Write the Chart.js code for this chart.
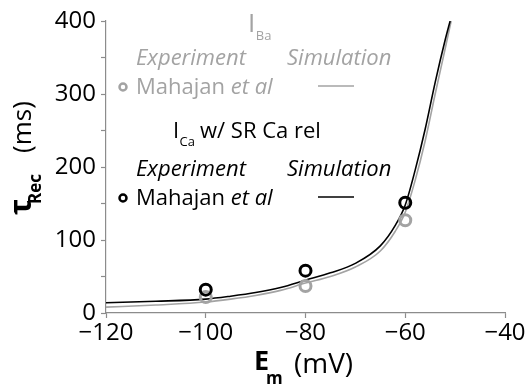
<!DOCTYPE html>
<html>
<head>
<meta charset="utf-8">
<script src="https://cdn.jsdelivr.net/npm/chart.js@4/dist/chart.umd.min.js"></script>
<style>
  html, body { margin: 0; padding: 0; background: #fff; }
  #wrap { width: 530px; height: 390px; }
</style>
</head>
<body>
<div id="wrap"><canvas id="tauChart" width="530" height="390"></canvas></div>
<script>
// --- data ---
const xTicks = [-120, -100, -80, -60, -40];
const yTicks = [0, 100, 200, 300, 400];

// simulation curves (I_Ba grey, I_Ca w/ SR Ca release black)
const simBaV   = [-120, -110, -100, -95, -90, -85, -80, -75, -70, -65, -62, -60, -58, -56, -54, -52, -50.8];
const simBaTau = [8, 11, 15, 19, 24, 31, 41, 50, 63, 85, 112, 138, 182, 236, 300, 362, 400];
const simCaV   = [-120, -110, -100, -95, -90, -85, -80, -75, -70, -65, -62, -60, -58, -56, -54, -52, -51];
const simCaTau = [14, 16, 19, 23, 28, 35, 45, 55, 68, 92, 120, 148, 196, 252, 316, 374, 400];

// experiment (Mahajan et al)
const expV     = [-100, -80, -60];
const expBaTau = [22, 37, 127];
const expCaTau = [32, 58, 151];

const GREY = '#a3a3a3';
const AXIS = '#8c8c8c';
const FONT = '"Open Sans", "Noto Sans", sans-serif';

const toXY = (xs, ys) => xs.map((x, i) => ({ x: x, y: ys[i] }));
const minus = v => (v < 0 ? '\u2212' + Math.abs(v) : String(v));

// titles + in-plot legend text, drawn on the canvas
const annotations = {
    id: 'annotations',
    afterDraw(chart) {
        const ctx = chart.ctx;
        ctx.save();
        ctx.textBaseline = 'alphabetic';
        ctx.textAlign = 'left';

        // y title: tau_Rec (ms)
        ctx.save();
        ctx.translate(31, 215);
        ctx.rotate(-Math.PI / 2);
        ctx.fillStyle = '#000';
        ctx.font = 'bold 30px ' + FONT;
        ctx.fillText('\u03c4', 0, 0);
        ctx.font = 'bold 17px ' + FONT;
        ctx.fillText('Rec', 11, 10);
        ctx.font = '26px ' + FONT;
        ctx.fillText('(ms)', 62, 0);
        ctx.restore();

        // x title: E_m (mV)
        ctx.fillStyle = '#000';
        ctx.font = 'bold 27px ' + FONT;
        ctx.fillText('E', 254, 370);
        ctx.font = 'bold 17px ' + FONT;
        ctx.fillText('m', 266, 384);
        ctx.font = '28px ' + FONT;
        ctx.fillText('(mV)', 294, 373);

        // legend block, grey (I_Ba)
        drawBlock(ctx, GREY, 0, 'Ba', 26, 248, 32);
        // legend block, black (I_Ca w/ SR Ca rel)
        drawBlock(ctx, '#000', 111, 'Ca', 22, 173, 138);
        ctx.fillStyle = '#000';
        ctx.font = '22px ' + FONT;
        ctx.fillText('w/ SR Ca rel', 200, 138);

        ctx.restore();
    }
};

function drawBlock(ctx, color, dy, sub, iSize, ix, iy) {
    ctx.fillStyle = color;
    ctx.strokeStyle = color;
    ctx.font = iSize + 'px ' + FONT;
    ctx.fillText('I', ix, iy);
    ctx.font = '13px ' + FONT;
    ctx.fillText(sub, ix + iSize * 0.3, iy + 8);

    ctx.font = 'italic 22px ' + FONT;
    ctx.fillText('Experiment', 136, 65 + dy);
    ctx.fillText('Simulation', 287, 65 + dy);

    ctx.beginPath();
    ctx.lineWidth = 2.5;
    ctx.arc(123, 87 + dy, 3.5, 0, Math.PI * 2);
    ctx.stroke();

    ctx.font = '22px ' + FONT;
    ctx.fillText('Mahajan ', 136, 94 + dy);
    const w = ctx.measureText('Mahajan ').width;
    ctx.font = 'italic 22px ' + FONT;
    ctx.fillText('et al', 136 + w, 94 + dy);

    ctx.beginPath();
    ctx.lineWidth = 1.5;
    ctx.moveTo(318, 86 + dy);
    ctx.lineTo(354, 86 + dy);
    ctx.stroke();
}

const ctx = document.getElementById('tauChart').getContext('2d');
new Chart(ctx, {
    type: 'scatter',
    data: {
        datasets: [
            {
                label: 'Mahajan et al (Ca)',
                data: toXY(expV, expCaTau),
                borderColor: '#000',
                backgroundColor: 'rgba(0,0,0,0)',
                borderWidth: 3,
                pointRadius: 5.5,
                order: 1
            },
            {
                label: 'Mahajan et al (Ba)',
                data: toXY(expV, expBaTau),
                borderColor: GREY,
                backgroundColor: 'rgba(0,0,0,0)',
                borderWidth: 3,
                pointRadius: 5.5,
                order: 2
            },
            {
                label: 'Simulation (Ca)',
                type: 'line',
                data: toXY(simCaV, simCaTau),
                borderColor: '#000',
                borderWidth: 1.6,
                pointRadius: 0,
                cubicInterpolationMode: 'monotone',
                order: 3
            },
            {
                label: 'Simulation (Ba)',
                type: 'line',
                data: toXY(simBaV, simBaTau),
                borderColor: GREY,
                borderWidth: 1.6,
                pointRadius: 0,
                cubicInterpolationMode: 'monotone',
                order: 4
            }
        ]
    },
    options: {
        responsive: false,
        animation: false,
        layout: { padding: { left: 0, top: 21, right: 25, bottom: 0 } },
        plugins: { legend: { display: false }, tooltip: { enabled: false } },
        scales: {
            x: {
                type: 'linear',
                min: xTicks[0],
                max: xTicks[xTicks.length - 1],
                afterFit: s => { s.height = 77; },
                afterBuildTicks: s => { s.ticks = xTicks.map(v => ({ value: v })); },
                border: { color: AXIS, width: 1.2 },
                grid: { drawOnChartArea: false, color: AXIS, tickLength: 5, tickWidth: 1.2 },
                ticks: {
                    color: '#000',
                    font: { family: FONT, size: 24 },
                    padding: 1,
                    maxRotation: 0,
                    callback: v => minus(v)
                }
            },
            y: {
                type: 'linear',
                min: 0,
                max: 400,
                afterFit: s => { s.width = 106; },
                border: { color: AXIS, width: 1.2 },
                grid: { drawOnChartArea: false, color: AXIS, tickLength: 5, tickWidth: 1.2 },
                ticks: {
                    stepSize: 50,
                    color: '#000',
                    font: { family: FONT, size: 24 },
                    padding: 5,
                    callback: v => (yTicks.includes(v) ? String(v) : '')
                }
            }
        }
    },
    plugins: [annotations]
});
</script>
</body>
</html>
